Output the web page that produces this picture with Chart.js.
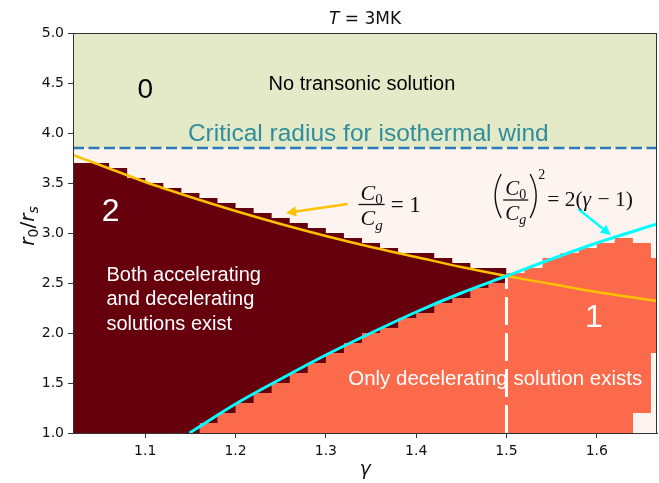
<!DOCTYPE html>
<html>
<head>
<meta charset="utf-8">
<script src="https://cdn.jsdelivr.net/npm/chart.js@4.4.0/dist/chart.umd.min.js"></script>
<style>
  html, body { margin: 0; padding: 0; background: #fff; }
  #wrap { width: 659px; height: 483px; }
</style>
</head>
<body>
<div id="wrap"><canvas id="myChart"></canvas></div>
<script>
// axis range
const gammaMin = 1.02;
const gammaMax = 1.6667;
const xTicks = [1.1, 1.2, 1.3, 1.4, 1.5, 1.6];
const yTicks = [1.0, 1.5, 2.0, 2.5, 3.0, 3.5, 4.0, 4.5, 5.0];

// region 2 (dark) : top of each gamma cell, cells start at these edges
const darkEdges = [1.02, 1.04, 1.06, 1.08, 1.10, 1.12, 1.14, 1.16, 1.18, 1.20, 1.22, 1.24, 1.26,
                   1.28, 1.30, 1.32, 1.34, 1.36, 1.38, 1.40, 1.42, 1.44, 1.46, 1.48, 1.50];
const darkTop = [3.70, 3.70, 3.65, 3.55, 3.50, 3.45, 3.40, 3.35, 3.30, 3.25, 3.20, 3.15, 3.10,
                 3.05, 3.00, 2.95, 2.90, 2.85, 2.80, 2.80, 2.75, 2.70, 2.65, 2.65, 2.65];

// region 1 (orange)
const orangeEdges = [1.16, 1.18, 1.20, 1.22, 1.24, 1.26, 1.28, 1.30, 1.32, 1.34, 1.36, 1.38, 1.40,
                     1.42, 1.44, 1.46, 1.48, 1.50, 1.52, 1.54, 1.56, 1.58, 1.60, 1.62, 1.64, 1.66, 1.6667];
const orangeTop = [1.10, 1.20, 1.30, 1.40, 1.50, 1.60, 1.70, 1.80, 1.90, 2.00, 2.05, 2.15, 2.20,
                   2.30, 2.35, 2.45, 2.50, 2.60, 2.65, 2.75, 2.80, 2.85, 2.90, 2.95, 2.90, 2.75, 2.75];

// cells at the right edge with no solution at the bottom
const gapEdges = [1.64, 1.66, 1.6667];
const gapTop = [1.20, 1.80, 1.80];

// C0/Cg = 1 curve
const yellowGamma = [1.02, 1.05, 1.10, 1.15, 1.20, 1.25, 1.30, 1.35, 1.40, 1.45, 1.50, 1.55, 1.60, 1.6667];
const yellowR = [3.78, 3.68, 3.51, 3.36, 3.22, 3.09, 2.97, 2.86, 2.76, 2.66, 2.57, 2.49, 2.41, 2.32];

// (C0/Cg)^2 = 2(gamma-1) curve
const cyanGamma = [1.149, 1.20, 1.25, 1.30, 1.35, 1.40, 1.45, 1.50, 1.55, 1.60, 1.6667];
const cyanR = [1.00, 1.29, 1.54, 1.78, 2.00, 2.21, 2.40, 2.57, 2.74, 2.90, 3.09];

const criticalRadius = 3.85;
const splitGamma = 1.5;
const splitTop = 2.57;

const colors = {
  light: '#fdf3ef',
  green: '#e4eac8',
  dark: '#67000d',
  orange: '#fb6a4a',
  yellow: '#ffc000',
  cyan: '#00ffff',
  blue: '#2a7cb6',
  teal: '#2f8d9c'
};

const toPoints = (xs, ys) => xs.map((g, i) => ({ x: g, y: ys[i] }));

const fillSet = (label, data, color, fill, order, stepped) => ({
  label, data, order, fill,
  backgroundColor: color,
  borderWidth: 0,
  borderColor: 'rgba(0,0,0,0)',
  pointRadius: 0,
  stepped: stepped || false
});

const serif = 'Liberation Serif';
const sans = 'Liberation Sans';

function drawRuns(ctx, runs, x, y, align) {
  let total = 0;
  runs.forEach(r => { ctx.font = r.font; r.w = ctx.measureText(r.t).width; total += r.w + (r.gap || 0); });
  let cx = align === 'center' ? x - total / 2 : x;
  runs.forEach(r => {
    ctx.font = r.font;
    ctx.fillText(r.t, cx, y + (r.dy || 0));
    cx += r.w + (r.gap || 0);
  });
  return total;
}

function drawFrac(ctx, cx, barY, size) {
  const big = 'italic ' + size + 'px ' + serif;
  const sub = Math.round(size * 0.68) + 'px ' + serif;
  const subIt = 'italic ' + Math.round(size * 0.68) + 'px ' + serif;
  ctx.textAlign = 'left';
  ctx.textBaseline = 'alphabetic';
  const w1 = drawRuns(ctx, [{ t: 'C', font: big }, { t: '0', font: sub, dy: size * 0.2 }], cx, barY - 5, 'center');
  drawRuns(ctx, [{ t: 'C', font: big }, { t: 'g', font: subIt, dy: size * 0.2 }], cx, barY + size * 0.95, 'center');
  const half = w1 / 2 + 2;
  ctx.lineWidth = 1.3;
  ctx.beginPath();
  ctx.moveTo(cx - half, barY);
  ctx.lineTo(cx + half, barY);
  ctx.stroke();
  return half;
}

function drawArrow(ctx, x1, y1, x2, y2, color) {
  const ang = Math.atan2(y2 - y1, x2 - x1);
  const head = 10, hw = 5;
  const bx = x2 - head * Math.cos(ang), by = y2 - head * Math.sin(ang);
  ctx.strokeStyle = color;
  ctx.fillStyle = color;
  ctx.lineWidth = 2.5;
  ctx.beginPath();
  ctx.moveTo(x1, y1);
  ctx.lineTo(bx, by);
  ctx.stroke();
  ctx.beginPath();
  ctx.moveTo(x2, y2);
  ctx.lineTo(bx + hw * Math.sin(ang), by - hw * Math.cos(ang));
  ctx.lineTo(bx - hw * Math.sin(ang), by + hw * Math.cos(ang));
  ctx.closePath();
  ctx.fill();
}

const annotations = {
  id: 'annotations',
  afterDatasetsDraw(chart) {
    const { ctx, chartArea: a, scales: { x, y } } = chart;
    const px = v => x.getPixelForValue(v);
    const py = v => y.getPixelForValue(v);
    ctx.save();

    // frame
    ctx.strokeStyle = '#333';
    ctx.lineWidth = 1;
    ctx.strokeRect(a.left + 0.5, a.top + 0.5, a.right - a.left - 1, a.bottom - a.top);

    const text = (t, gx, ry, font, color, align) => {
      ctx.font = font;
      ctx.fillStyle = color;
      ctx.textAlign = align || 'center';
      ctx.textBaseline = 'middle';
      ctx.fillText(t, px(gx), py(ry));
    };

    text('0', 1.10, 4.43, '28px ' + sans, '#000');
    text('No transonic solution', 1.34, 4.49, '20px ' + sans, '#000');
    text('Critical radius for isothermal wind', 1.347, 3.99, '24.5px ' + sans, colors.teal);
    text('2', 1.0618, 3.21, '32px ' + sans, '#fff');
    text('Both accelerating', 1.057, 2.575, '20px ' + sans, '#fff', 'left');
    text('and decelerating', 1.057, 2.34, '20px ' + sans, '#fff', 'left');
    text('solutions exist', 1.057, 2.09, '20px ' + sans, '#fff', 'left');
    text('1', 1.5967, 2.15, '32px ' + sans, '#fff');
    text('Only decelerating solution exists', 1.4875, 1.54, '20.5px ' + sans, '#fff');

    // arrows
    drawArrow(ctx, px(1.324), py(3.29), px(1.256), py(3.20), colors.yellow);
    drawArrow(ctx, px(1.5795), py(3.24), px(1.6155), py(2.98), colors.cyan);

    // C0/Cg = 1
    ctx.fillStyle = '#111';
    ctx.strokeStyle = '#111';
    let cx = px(1.3506), cy = py(3.285);
    let half = drawFrac(ctx, cx, cy, 22);
    ctx.font = '23px ' + serif;
    ctx.textAlign = 'left';
    ctx.fillText('= 1', cx + half + 6, cy + 7);

    // (C0/Cg)^2 = 2(gamma - 1)
    cx = px(1.5102); cy = py(3.33);
    half = drawFrac(ctx, cx, cy, 21);
    ctx.lineWidth = 1.4;
    ctx.beginPath();
    ctx.moveTo(cx - half - 2, cy - 26);
    ctx.quadraticCurveTo(cx - half - 14, cy - 4, cx - half - 2, cy + 18);
    ctx.moveTo(cx + half + 2, cy - 26);
    ctx.quadraticCurveTo(cx + half + 14, cy - 4, cx + half + 2, cy + 18);
    ctx.stroke();
    ctx.font = '14px ' + serif;
    ctx.fillText('2', cx + half + 10, cy - 21);
    ctx.textAlign = 'left';
    drawRuns(ctx, [
      { t: '= 2(', font: '21.5px ' + serif },
      { t: 'γ', font: 'italic 21.5px ' + serif, gap: 1 },
      { t: ' − 1)', font: '21.5px ' + serif }
    ], cx + half + 19, cy + 6, 'left');

    // title
    ctx.fillStyle = '#111';
    ctx.textAlign = 'left';
    ctx.textBaseline = 'alphabetic';
    const mid = (a.left + a.right) / 2;
    drawRuns(ctx, [
      { t: 'T', font: 'italic 17px DejaVu Sans' },
      { t: ' = 3MK', font: '17px DejaVu Sans' }
    ], mid, 24, 'center');

    // x label
    drawRuns(ctx, [{ t: 'γ', font: 'italic 19px DejaVu Sans' }], mid, 475, 'center');

    // y label
    ctx.translate(34, (a.top + a.bottom) / 2 - 7);
    ctx.rotate(-Math.PI / 2);
    drawRuns(ctx, [
      { t: 'r', font: 'italic 20px DejaVu Sans' },
      { t: '0', font: '14px DejaVu Sans', dy: 4 },
      { t: '/', font: '20px DejaVu Sans' },
      { t: 'r', font: 'italic 20px DejaVu Sans' },
      { t: 's', font: 'italic 14px DejaVu Sans', dy: 4 }
    ], 0, 0, 'center');

    ctx.restore();
  }
};

const datasets = [
  fillSet('light', toPoints([gammaMin, gammaMax], [criticalRadius, criticalRadius]), colors.light, 'start', 20),
  fillSet('no transonic', toPoints([gammaMin, gammaMax], [5, 5]), colors.green, { value: criticalRadius }, 19),
  fillSet('region 2', toPoints(darkEdges, darkTop), colors.dark, 'start', 18, 'before'),
  fillSet('region 1', toPoints(orangeEdges, orangeTop), colors.orange, 'start', 17, 'before'),
  fillSet('gap', toPoints(gapEdges, gapTop), colors.light, 'start', 16, 'before'),
  {
    label: 'gamma = 1.5',
    data: toPoints([splitGamma, splitGamma], [1.0, splitTop]),
    borderColor: '#fff', borderWidth: 3, borderDash: [28, 8],
    pointRadius: 0, fill: false, order: 15
  },
  {
    label: 'critical radius',
    data: toPoints([gammaMin, gammaMax], [criticalRadius, criticalRadius]),
    borderColor: colors.blue, borderWidth: 2.5, borderDash: [11, 4.5],
    pointRadius: 0, fill: false, order: 14
  },
  {
    label: 'C0/Cg = 1',
    data: toPoints(yellowGamma, yellowR),
    borderColor: colors.yellow, borderWidth: 2.5, cubicInterpolationMode: 'monotone',
    pointRadius: 0, fill: false, order: 13
  },
  {
    label: '(C0/Cg)^2 = 2(gamma-1)',
    data: toPoints(cyanGamma, cyanR),
    borderColor: colors.cyan, borderWidth: 3, cubicInterpolationMode: 'monotone',
    pointRadius: 0, fill: false, order: 12
  }
];

const tickFont = { family: 'DejaVu Sans', size: 14 };

const ctx = document.getElementById('myChart').getContext('2d');
const myChart = new Chart(ctx, {
  type: 'line',
  data: { datasets },
  options: {
    responsive: true,
    maintainAspectRatio: false,
    animation: false,
    events: [],
    layout: { padding: { top: 33, right: 2, left: 0, bottom: 0 } },
    plugins: {
      legend: { display: false },
      tooltip: { enabled: false },
      title: { display: false }
    },
    scales: {
      x: {
        type: 'linear',
        min: gammaMin,
        max: gammaMax,
        afterBuildTicks: s => { s.ticks = xTicks.map(v => ({ value: v })); },
        afterFit: s => { s.height = 50; },
        ticks: { callback: v => v.toFixed(1), font: tickFont, color: '#111', padding: 5, maxRotation: 0, autoSkip: false },
        grid: { drawOnChartArea: false, tickLength: 5, color: '#333' },
        border: { display: true, color: '#333' }
      },
      y: {
        type: 'linear',
        min: 1,
        max: 5,
        afterBuildTicks: s => { s.ticks = yTicks.map(v => ({ value: v })); },
        afterFit: s => { s.width = 73; },
        ticks: { callback: v => v.toFixed(1), font: tickFont, color: '#111', padding: 4, autoSkip: false },
        grid: { drawOnChartArea: false, tickLength: 5, color: '#333' },
        border: { display: true, color: '#333' }
      }
    }
  },
  plugins: [annotations]
});
</script>
</body>
</html>
